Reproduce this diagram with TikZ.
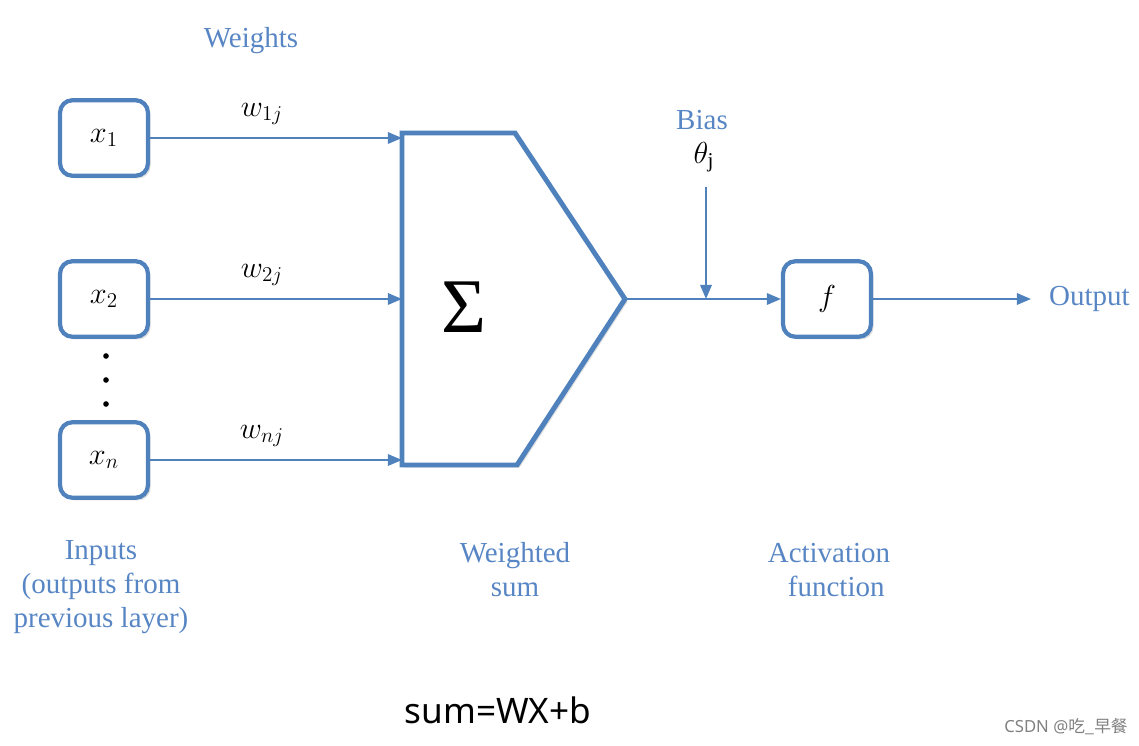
\documentclass[tikz,border=0pt]{standalone}
\usepackage{fontspec}
\setmainfont{Liberation Serif}
\newfontfamily\sansf{Noto Sans}
\newfontfamily\cjk{Noto Sans CJK SC}
\usetikzlibrary{arrows.meta,shadows}
\definecolor{nblue}{RGB}{79,129,189}
\definecolor{lblue}{RGB}{88,134,196}
\tikzset{
  inbox/.style={draw=nblue,line width=2.4pt,rounded corners=7pt,fill=white,minimum width=50pt,minimum height=43pt,inner sep=0pt,
    drop shadow={opacity=0.25,shadow xshift=1.5pt,shadow yshift=-1.5pt}},
  arr/.style={draw=nblue,line width=1.1pt,-{Triangle[length=8pt,width=6.5pt]}},
  lbl/.style={text=lblue,font=\fontsize{16.5}{19.3}\selectfont,align=center},
  mth/.style={font=\fontsize{17.28}{20}\selectfont},
  dotn/.style={circle,fill=black,inner sep=0pt,minimum size=3.2pt}
}
\begin{document}
\begin{tikzpicture}[x=0.02cm,y=-0.02cm]
\useasboundingbox (0,0) rectangle (1139,746);
% labels
\node[lbl] (weights) at (251,41) {Weights};
\node[lbl] (inputs) at (101,587) {Inputs\\(outputs from\\previous layer)};
\node[lbl] (wsum) at (515,570) {Weighted\\sum};
\node[lbl] (act) at (829,570) {Activation\\\ \ function};
% input boxes
\node[inbox,mth] (x1) at (104,138) {$x_1$};
\node[inbox,mth] (x2) at (104,299) {$x_2$};
\node[inbox,mth] (xn) at (104,460) {$x_n$};
\node[dotn] (d1) at (106,356) {};
\node[dotn] (d2) at (106,380) {};
\node[dotn] (d3) at (106,404) {};
% summation pentagon
\coordinate (s1) at (402,138);
\coordinate (s2) at (402,299);
\coordinate (sn) at (402,460);
\coordinate (tip) at (625,299);
\draw[nblue,line width=2.8pt,line join=miter,fill=white,
  drop shadow={opacity=0.25,shadow xshift=1.5pt,shadow yshift=-1.5pt}]
  (402,133) -- (515,133) -- (tip) -- (517,465) -- (402,465) -- cycle;
\node[font=\fontsize{44}{48}\selectfont] (sigma) at (464,307) {Σ};
% weight arrows
\draw[arr] (x1.east) -- (s1);
\draw[arr] (x2.east) -- (s2);
\draw[arr] (xn.east) -- (sn);
\node[mth] (w1) at (262,114) {$w_{1j}$};
\node[mth] (w2) at (262,275) {$w_{2j}$};
\node[mth] (wn) at (262,436) {$w_{nj}$};
% activation
\node[inbox,mth] (f) at (827,299) {$f$};
\draw[arr] (tip) -- (f.west);
\node[lbl] (bias) at (702,120) {Bias};
\node[mth] (theta) at (704,157) {$\theta_{\mathrm{j}}$};
\coordinate (btop) at (706,187);
\coordinate (bj) at (706,299);
\draw[arr] (btop) -- (bj);
\node[lbl,anchor=west] (out) at (1043,299) {Output};
\coordinate (oend) at (1031,299);
\draw[arr] (f.east) -- (oend);
% formula
\node[font=\sansf\fontsize{20}{24}\selectfont] (formula) at (498,710) {sum=WX+b};
\node[text=gray,font=\fontsize{9.5}{11}\selectfont] (wm) at (1066,727) {\sansf CSDN @\cjk 吃\_早餐};
\end{tikzpicture}
\end{document}
